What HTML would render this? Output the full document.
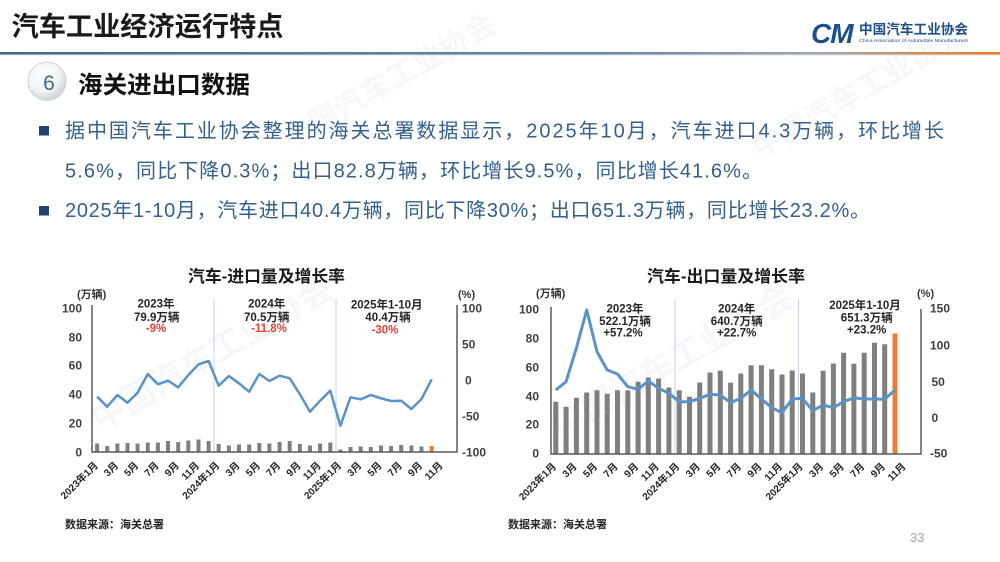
<!DOCTYPE html>
<html>
<head>
<meta charset="utf-8">
<style>
html,body{margin:0;padding:0;background:#fff;}
body{width:1000px;height:562px;overflow:hidden;}
svg{display:block;font-family:"Liberation Sans","Noto Sans CJK SC",sans-serif;}
.b{font-weight:bold;}
</style>
</head>
<body>
<svg width="1000" height="562" viewBox="0 0 1000 562" xmlns="http://www.w3.org/2000/svg">
<defs>
<linearGradient id="hl" x1="0" x2="1" y1="0" y2="0">
<stop offset="0" stop-color="#46688b"/>
<stop offset="0.6" stop-color="#6a87a5"/>
<stop offset="0.82" stop-color="#9ea6b0"/>
<stop offset="0.93" stop-color="#d98b4b"/>
<stop offset="1" stop-color="#ee7c2b"/>
</linearGradient>
<radialGradient id="cg" cx="0.4" cy="0.35" r="0.7">
<stop offset="0" stop-color="#ffffff"/>
<stop offset="0.6" stop-color="#f1f3f5"/>
<stop offset="1" stop-color="#c9cfd6"/>
</radialGradient>
</defs>

<!-- watermarks -->
<g fill="#1d4f8b" opacity="0.045" class="b">
<text x="0" y="0" font-size="34" transform="translate(100,432) rotate(-30)">中国汽车工业协会</text>
<text x="0" y="0" font-size="34" transform="translate(560,440) rotate(-30)">中国汽车工业协会</text>
<text x="0" y="0" font-size="30" transform="translate(290,150) rotate(-30)">中国汽车工业协会</text>
<text x="0" y="0" font-size="30" transform="translate(760,160) rotate(-30)">中国汽车工业协会</text>
</g>

<!-- header -->
<text x="11.5" y="36" font-size="27" class="b" fill="#1a1a1a" textLength="272" lengthAdjust="spacingAndGlyphs">汽车工业经济运行特点</text>
<rect x="0" y="52" width="1000" height="2.5" fill="url(#hl)"/>
<rect x="0" y="54.5" width="1000" height="1" fill="#c9d3dd" opacity="0.6"/>

<!-- logo -->
<text x="811" y="43" font-size="28" font-style="italic" class="b" fill="#1d4f8b" letter-spacing="-1">CM</text>
<text x="859" y="34" font-size="13.5" class="b" fill="#1d4f8b" textLength="109" lengthAdjust="spacingAndGlyphs">中国汽车工业协会</text>
<text x="859" y="42" font-size="4.6" fill="#1d4f8b" textLength="109" lengthAdjust="spacingAndGlyphs">China Association of Automobile Manufacturers</text>

<!-- section heading -->
<circle cx="47" cy="82" r="19.5" fill="#dde1e6" opacity="0.6"/>
<circle cx="47" cy="81" r="19" fill="url(#cg)" stroke="#cfd4da" stroke-width="1"/>
<text x="49" y="90" font-size="21" fill="#3f6891" text-anchor="middle">6</text>
<text x="78" y="93" font-size="24" class="b" fill="#111" textLength="172" lengthAdjust="spacingAndGlyphs">海关进出口数据</text>

<!-- bullets -->
<rect x="39" y="126" width="10" height="9.5" fill="#1f4570"/>
<rect x="39" y="206" width="10" height="9.5" fill="#1f4570"/>
<g font-size="20" fill="#34608c">
<text x="65" y="137.5" textLength="879" lengthAdjust="spacing">据中国汽车工业协会整理的海关总署数据显示，2025年10月，汽车进口4.3万辆，环比增长</text>
<text x="65" y="177.5" textLength="697" lengthAdjust="spacing">5.6%，同比下降0.3%；出口82.8万辆，环比增长9.5%，同比增长41.6%。</text>
<text x="65" y="217" textLength="805" lengthAdjust="spacing">2025年1-10月，汽车进口40.4万辆，同比下降30%；出口651.3万辆，同比增长23.2%。</text>
</g>

<!-- ================= LEFT CHART ================= -->
<text x="266.5" y="282" font-size="16.5" class="b" fill="#1a1a1a" text-anchor="middle" textLength="157" lengthAdjust="spacingAndGlyphs">汽车-进口量及增长率</text>
<text x="77" y="298" font-size="11" class="b" fill="#333">(万辆)</text>
<text x="458" y="298" font-size="11" class="b" fill="#333">(%)</text>
<g font-size="12" class="b" fill="#404040" text-anchor="end">
<text x="82" y="312.3">100</text>
<text x="82" y="341.3">80</text>
<text x="82" y="369.3">60</text>
<text x="82" y="398.3">40</text>
<text x="82" y="427.3">20</text>
<text x="82" y="456.3">0</text>
</g>
<g font-size="12" class="b" fill="#404040">
<text x="462" y="312.3">100</text>
<text x="462" y="348.3">50</text>
<text x="465" y="384.3">0</text>
<text x="462" y="420.3">-50</text>
<text x="462" y="456.3">-100</text>
</g>
<!-- dividers -->
<g stroke="#c3d3e5" stroke-width="1">
<line x1="214" y1="299" x2="214" y2="452"/>
<line x1="336" y1="299" x2="336" y2="452"/>
</g>
<!-- bars -->
<path d="M97.1 452V443.5 M107.2 452V446 M117.4 452V443.5 M127.5 452V443 M137.6 452V443.5 M147.8 452V442.5 M157.9 452V442.5 M168 452V441 M178.2 452V442 M188.3 452V440.5 M198.5 452V439.5 M208.6 452V441 M218.7 452V444 M228.9 452V445.5 M239 452V444.5 M249.2 452V444.5 M259.3 452V443 M269.4 452V443.5 M279.6 452V442 M289.7 452V441 M299.9 452V444 M310 452V445.5 M320.1 452V443.5 M330.3 452V442.5 M340.4 452V449.5 M350.5 452V447 M360.7 452V446.5 M370.8 452V447 M381 452V445.5 M391.1 452V446 M401.2 452V445 M411.4 452V445.5 M421.5 452V446.5" stroke="#7f7f7f" stroke-width="4" fill="none"/>
<path d="M431.7 452V446" stroke="#ed7d31" stroke-width="4" fill="none"/>
<!-- line -->
<polyline fill="none" stroke="#5b92c8" stroke-width="2.5" stroke-linejoin="round" points="97.1,396.7 107.2,406.7 117.4,395 127.5,402.7 137.6,392.7 147.8,374 157.9,384.3 168,380.7 178.2,387.3 188.3,375 198.5,364.3 208.6,361 218.7,385.7 228.9,376 239,383.3 249.2,391.7 259.3,374 269.4,381 279.6,375.7 289.7,378.3 299.9,394.3 310,411.7 320.1,400.7 330.3,390.7 340.4,425.7 350.5,397.3 360.7,399.3 370.8,395 381,398.3 391.1,401 401.2,400.7 411.4,409 421.5,399 431.7,379.3"/>
<!-- axes -->
<g stroke="#595959" stroke-width="1.5" fill="none">
<polyline points="92,305 92,452 457,452 457,305"/>
</g>
<!-- annotations -->
<g font-size="11.5" class="b" fill="#262626" text-anchor="middle">
<text x="156" y="307.5">2023年</text>
<text x="156.7" y="321">79.9万辆</text>
<text x="266.7" y="307.5">2024年</text>
<text x="266.7" y="321">70.5万辆</text>
<text x="386.7" y="308.5">2025年1-10月</text>
<text x="388" y="321">40.4万辆</text>
</g>
<g font-size="11.5" class="b" fill="#e8413a" text-anchor="middle">
<text x="156" y="332">-9%</text>
<text x="269" y="332">-11.8%</text>
<text x="385" y="333.5">-30%</text>
</g>
<!-- x labels -->
<g font-size="10" class="b" fill="#262626" text-anchor="end">
<text transform="translate(98.6,466) rotate(-45)">2023年1月</text>
<text transform="translate(118.9,466) rotate(-45)">3月</text>
<text transform="translate(139.1,466) rotate(-45)">5月</text>
<text transform="translate(159.4,466) rotate(-45)">7月</text>
<text transform="translate(179.7,466) rotate(-45)">9月</text>
<text transform="translate(200,466) rotate(-45)">11月</text>
<text transform="translate(220.2,466) rotate(-45)">2024年1月</text>
<text transform="translate(240.5,466) rotate(-45)">3月</text>
<text transform="translate(260.8,466) rotate(-45)">5月</text>
<text transform="translate(281.1,466) rotate(-45)">7月</text>
<text transform="translate(301.4,466) rotate(-45)">9月</text>
<text transform="translate(321.6,466) rotate(-45)">11月</text>
<text transform="translate(341.9,466) rotate(-45)">2025年1月</text>
<text transform="translate(362.2,466) rotate(-45)">3月</text>
<text transform="translate(382.5,466) rotate(-45)">5月</text>
<text transform="translate(402.7,466) rotate(-45)">7月</text>
<text transform="translate(423,466) rotate(-45)">9月</text>
<text transform="translate(443.3,466) rotate(-45)">11月</text>
</g>
<text x="65" y="528" font-size="11" class="b" fill="#262626">数据来源：海关总署</text>

<!-- ================= RIGHT CHART ================= -->
<text x="726" y="282" font-size="16.5" class="b" fill="#1a1a1a" text-anchor="middle" textLength="158" lengthAdjust="spacingAndGlyphs">汽车-出口量及增长率</text>
<text x="536" y="297" font-size="11" class="b" fill="#333">(万辆)</text>
<text x="917" y="297" font-size="11" class="b" fill="#333">(%)</text>
<g font-size="12" class="b" fill="#404040" text-anchor="end">
<text x="539" y="313.3">100</text>
<text x="539" y="342.3">80</text>
<text x="539" y="371.3">60</text>
<text x="539" y="400.3">40</text>
<text x="539" y="428.3">20</text>
<text x="539" y="457.3">0</text>
</g>
<g font-size="12" class="b" fill="#404040">
<text x="930" y="312.3">150</text>
<text x="930" y="349.3">100</text>
<text x="931.5" y="386">50</text>
<text x="931.5" y="422">0</text>
<text x="930" y="457.3">-50</text>
</g>
<g stroke="#c3d3e5" stroke-width="1">
<line x1="675" y1="299" x2="675" y2="454"/>
<line x1="798.5" y1="299" x2="798.5" y2="454"/>
</g>
<path d="M555.8 453.5V401.8 M566.1 453.5V406.8 M576.4 453.5V397.8 M586.7 453.5V392.5 M597 453.5V390.2 M607.2 453.5V393.8 M617.5 453.5V390.2 M627.8 453.5V390.2 M638.1 453.5V381.8 M648.3 453.5V377.5 M658.6 453.5V378.5 M668.9 453.5V387.5 M679.2 453.5V390.2 M689.5 453.5V396.8 M699.7 453.5V382.5 M710 453.5V372.5 M720.3 453.5V370.8 M730.6 453.5V382.8 M740.8 453.5V373.5 M751.1 453.5V365.2 M761.4 453.5V365.2 M771.7 453.5V369.2 M782 453.5V374.5 M792.2 453.5V370.5 M802.5 453.5V373.5 M812.8 453.5V392.5 M823.1 453.5V370.8 M833.4 453.5V363.5 M843.6 453.5V352.8 M853.9 453.5V363.8 M864.2 453.5V352.8 M874.5 453.5V342.8 M884.7 453.5V344.2" stroke="#7f7f7f" stroke-width="5" fill="none"/>
<path d="M895 453.5V333.5" stroke="#ed7d31" stroke-width="5" fill="none"/>
<polyline fill="none" stroke="#5b92c8" stroke-width="3" stroke-linejoin="round" points="555.8,390 566.1,381.7 576.4,348 586.7,310 597,351.7 607.2,370 617.5,374 627.8,386.7 638.1,389.3 648.3,381 658.6,388.3 668.9,393.3 679.2,401.7 689.5,401.7 699.7,398.3 710,394.3 720.3,395 730.6,402.7 740.8,398.3 751.1,390 761.4,399 771.7,407.7 782,412.7 792.2,399 802.5,398.3 812.8,410.7 823.1,405 833.4,407.7 843.6,401.7 853.9,397.7 864.2,399 874.5,399 884.7,399.3 895,390"/>
<g stroke="#595959" stroke-width="1.5" fill="none">
<polyline points="551,307 551,454 921,454 921,309"/>
</g>
<g font-size="11.5" class="b" fill="#262626" text-anchor="middle">
<text x="625" y="312.5">2023年</text>
<text x="625" y="325">522.1万辆</text>
<text x="623" y="336.5">+57.2%</text>
<text x="736.7" y="312.5">2024年</text>
<text x="736.7" y="325">640.7万辆</text>
<text x="736.7" y="336.5">+22.7%</text>
<text x="865" y="309">2025年1-10月</text>
<text x="866.7" y="321.5">651.3万辆</text>
<text x="866.7" y="333.5">+23.2%</text>
</g>
<g font-size="10" class="b" fill="#262626" text-anchor="end">
<text transform="translate(556.8,467) rotate(-45)">2023年1月</text>
<text transform="translate(577.4,467) rotate(-45)">3月</text>
<text transform="translate(598,467) rotate(-45)">5月</text>
<text transform="translate(618.5,467) rotate(-45)">7月</text>
<text transform="translate(639.1,467) rotate(-45)">9月</text>
<text transform="translate(659.6,467) rotate(-45)">11月</text>
<text transform="translate(680.2,467) rotate(-45)">2024年1月</text>
<text transform="translate(700.7,467) rotate(-45)">3月</text>
<text transform="translate(721.3,467) rotate(-45)">5月</text>
<text transform="translate(741.8,467) rotate(-45)">7月</text>
<text transform="translate(762.4,467) rotate(-45)">9月</text>
<text transform="translate(783,467) rotate(-45)">11月</text>
<text transform="translate(803.5,467) rotate(-45)">2025年1月</text>
<text transform="translate(824.1,467) rotate(-45)">3月</text>
<text transform="translate(844.6,467) rotate(-45)">5月</text>
<text transform="translate(865.2,467) rotate(-45)">7月</text>
<text transform="translate(885.7,467) rotate(-45)">9月</text>
<text transform="translate(906.3,467) rotate(-45)">11月</text>
</g>
<text x="508" y="528" font-size="11" class="b" fill="#262626">数据来源：海关总署</text>

<text x="910" y="542" font-size="13" fill="#a6a6a6">33</text>
</svg>
</body>
</html>
